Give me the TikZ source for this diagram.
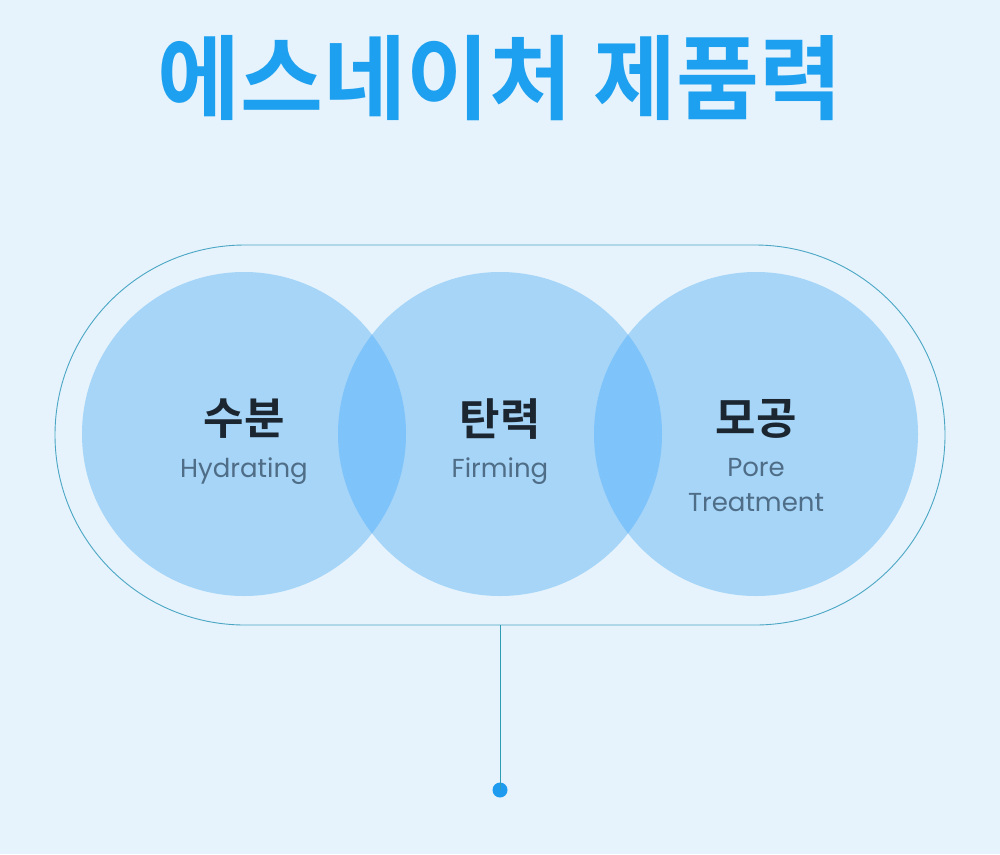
\documentclass[tikz,border=0pt]{standalone}
\usepackage{fontspec}
\newfontfamily\kr{Noto Sans CJK KR}[BoldFont={Noto Sans CJK KR Bold}]
\newfontfamily\pop{Poppins}
\definecolor{bg}{HTML}{E6F3FC}
\definecolor{circ}{HTML}{A6D5F8}
\definecolor{lens}{HTML}{7EC3F9}
\definecolor{ttl}{HTML}{1DA0EF}
\definecolor{pillline}{HTML}{4AA6C4}
\definecolor{conn}{HTML}{2E9CB4}
\definecolor{dotc}{HTML}{1E9BEF}
\definecolor{kdark}{HTML}{1B2631}
\definecolor{engc}{HTML}{4F6D86}
\tikzset{
  bubble/.style={circle, fill=circ, minimum size=324pt, inner sep=0pt},
  pill/.style={rectangle, rounded corners=190pt, draw=pillline, line width=0.9pt, minimum width=890pt, minimum height=380pt, inner sep=0pt},
  krlabel/.style={font=\kr\bfseries\fontsize{44}{48}\selectfont, text=kdark, inner sep=0pt},
  enlabel/.style={font=\pop\fontsize{26}{35}\selectfont, text=engc, inner sep=0pt, align=center},
  title/.style={font=\kr\bfseries\fontsize{92}{100}\selectfont, text=ttl, inner sep=0pt},
  enddot/.style={circle, fill=dotc, minimum size=15pt, inner sep=0pt}
}
\begin{document}
\begin{tikzpicture}[x=1pt, y=-1pt]
\fill[bg] (0,0) rectangle (1000,854);
\useasboundingbox (0,0) rectangle (1000,854);
\node[title] (t) at (500,78) {\scalebox{0.98}[1]{에스네이처 제품력}};
\node[pill] (p) at (500,435) {};
\node[bubble] (c1) at (244,434) {};
\node[bubble] (c2) at (500,434) {};
\node[bubble] (c3) at (756,434) {};
\begin{scope}
  \clip (244,434) circle (162pt);
  \fill[lens] (500,434) circle (162pt);
\end{scope}
\begin{scope}
  \clip (500,434) circle (162pt);
  \fill[lens] (756,434) circle (162pt);
\end{scope}
\node[krlabel] (k1) at (244,419) {수분};
\node[krlabel] (k2) at (500,419) {탄력};
\node[krlabel] (k3) at (756,419) {모공};
\node[enlabel] (e1) at (244,471) {Hydrating};
\node[enlabel] (e2) at (500,471) {Firming};
\node[enlabel] (e3) at (756,485) {Pore\\Treatment};
\node[enddot] (d) at (500,790) {};
\draw[conn, line width=1pt] (p.south) -- (d.center);
\end{tikzpicture}
\end{document}
